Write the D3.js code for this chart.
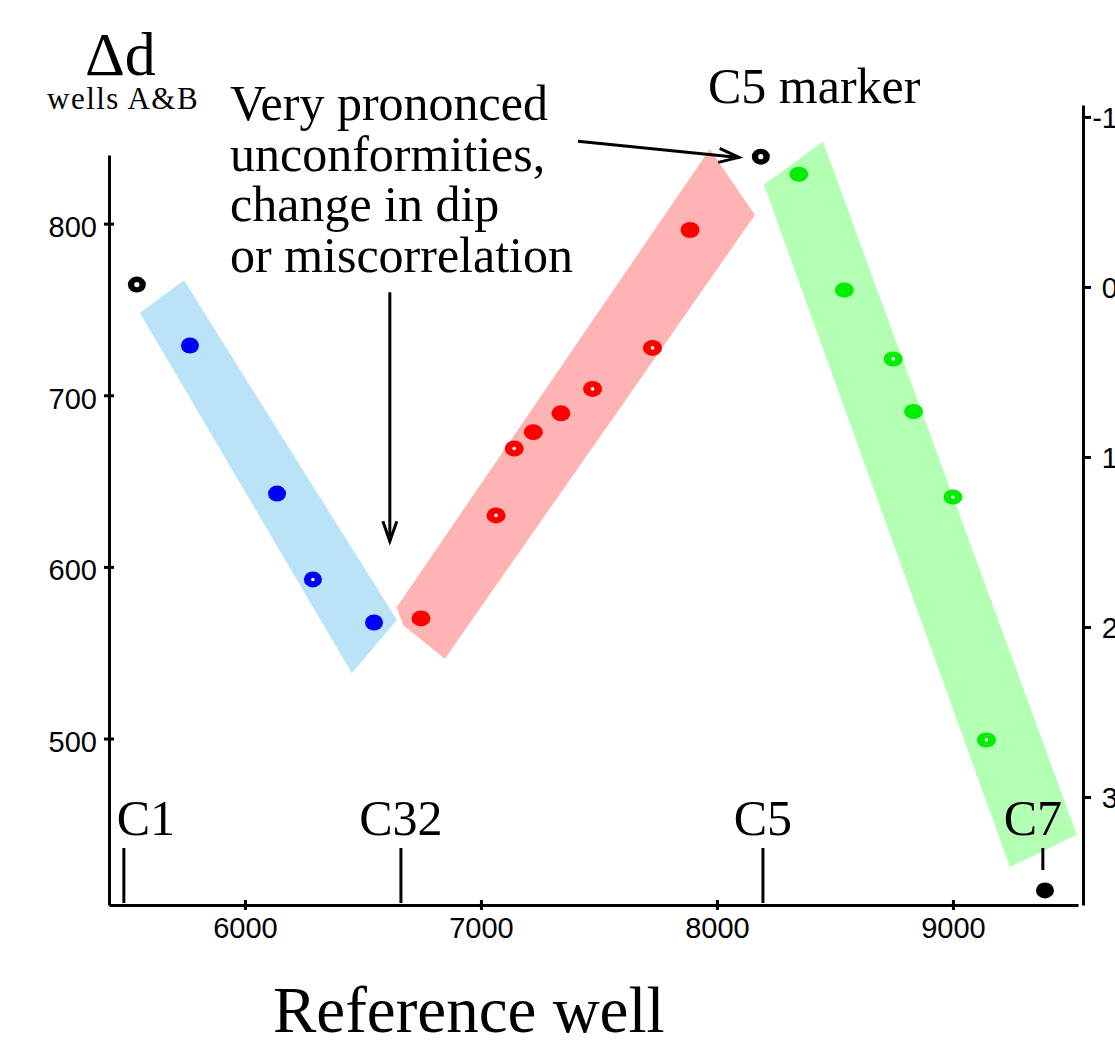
<!DOCTYPE html>
<html>
<head>
<meta charset="utf-8">
<script src="https://cdn.jsdelivr.net/npm/d3@7"></script>
<style>
  html, body { margin: 0; padding: 0; background: #fff; overflow: hidden; }
  svg { display: block; }
</style>
</head>
<body>
<svg id="chart" width="1115" height="1047"></svg>
<script>
// ---------------- data ----------------
const xTicks = [6000, 7000, 8000, 9000];
const yTicks = [500, 600, 700, 800];
const yRightTicks = [-1, 0, 1, 2, 3];

const blueX = [5767, 6136, 6288, 6547];
const blueY = [729, 642.7, 592.7, 567.6];
const blueRing = [false, false, true, false];

const redX = [6746, 7064, 7141, 7222, 7339, 7473, 7727, 7886];
const redY = [570, 630, 669, 678.5, 689.5, 703.7, 727.6, 796.3];
const redRing = [false, true, true, false, false, true, true, false];

const greenX = [8347, 8540, 8747, 8833, 9000, 9142];
const greenY = [828.8, 761.3, 721.2, 690.6, 640.7, 499.2];
const greenRing = [false, false, true, false, true, true];

const blackX = [5542, 8186, 9390];
const blackY = [764.5, 839, 411.5];
const blackRing = [true, true, false];

const markerNames = ["C1", "C32", "C5", "C7"];
const markerX = [5487, 6661, 8195, 9381];

// trend bands (data coordinates)
const blueBand = [[5555, 748], [5742, 767], [6644, 569], [6453, 538]];
const redBand = [[6643, 576.5], [7970, 843.5], [8161, 805], [6847, 546.5], [6671, 566]];
const greenBand = [[8199, 822.7], [8449, 847.8], [9525, 444], [9242, 425]];

// annotation arrows (data coordinates)
const arrowVertical = [[6614, 760], [6614, 615]];
const arrowToC5 = [[7411, 848], [8093, 838.6]];

const noteLines = ["Very prononced", "unconformities,", "change in dip", "or miscorrelation"];

// ---------------- drawing ----------------
const svg = d3.select("#chart");
svg.append("rect").attr("width", 1115).attr("height", 1047).attr("fill", "#fff");

const x = d3.scaleLinear().domain([5424, 9530]).range([109, 1078]);
const y = d3.scaleLinear().domain([403, 840]).range([905, 155]);
const yR = d3.scaleLinear().domain([-1.07, 3.635]).range([105, 905]);

const serif = "'Liberation Serif','Times New Roman',Times,serif";
const sans = "'Liberation Sans',Arial,Helvetica,sans-serif";

// bands
const bandLine = d3.line().x(d => x(d[0])).y(d => y(d[1])).curve(d3.curveLinearClosed);
svg.append("path").attr("d", bandLine(blueBand)).attr("fill", "#bbe3f7");
svg.append("path").attr("d", bandLine(redBand)).attr("fill", "#ffb3b3");
svg.append("path").attr("d", bandLine(greenBand)).attr("fill", "#b3ffb3");

// axes
const axLeft = svg.append("g").attr("transform", `translate(${x.range()[0]},0)`)
  .call(d3.axisLeft(y).tickValues(yTicks).tickSizeInner(5).tickSizeOuter(0).tickPadding(7));
const axBottom = svg.append("g").attr("transform", `translate(0,${y.range()[0]})`)
  .call(d3.axisBottom(x).tickValues(xTicks).tickSizeInner(5).tickSizeOuter(0).tickPadding(0).tickFormat(d3.format("d")));
const axRight = svg.append("g").attr("transform", "translate(1083,0)")
  .call(d3.axisRight(yR).tickValues(yRightTicks).tickSizeInner(8).tickSizeOuter(0).tickPadding(0)
    .tickFormat(d => (d < 0 ? "-" : "") + Math.abs(d)));

[axLeft, axBottom, axRight].forEach(g => {
  g.select(".domain").attr("stroke", "#000").attr("stroke-width", 3);
  g.selectAll(".tick line").attr("stroke", "#000").attr("stroke-width", 3);
  g.selectAll(".tick text").attr("fill", "#000").style("font-family", sans).style("font-size", "29px");
});
axLeft.selectAll(".tick line").attr("x1", 5).attr("x2", -5);
axLeft.selectAll(".tick text").attr("dy", "0.45em");
axBottom.selectAll(".tick line").attr("y1", -5).attr("y2", 5);
axBottom.selectAll(".tick text").attr("y", 33).attr("dy", 0);
axRight.selectAll(".tick text").attr("x", 35).attr("text-anchor", "end").attr("dy", "0.36em");

// well marker lines + labels
const markerLabelDx = [22, 0, 0, -10];
const markerLineTop = [848, 848, 848, 848];
const markerLineBottom = [903, 903, 903, 870];
markerNames.forEach((name, i) => {
  const px = x(markerX[i]);
  svg.append("line").attr("x1", px).attr("x2", px)
    .attr("y1", markerLineTop[i]).attr("y2", markerLineBottom[i])
    .attr("stroke", "#000").attr("stroke-width", 3);
  svg.append("text").attr("x", px + markerLabelDx[i]).attr("y", 835)
    .attr("text-anchor", "middle").style("font-family", serif).style("font-size", "50px")
    .attr("fill", "#000").text(name);
});

// dots
function drawDots(xs, ys, rings, color, rx, ry, hole) {
  xs.forEach((v, i) => {
    svg.append("ellipse").attr("cx", x(v)).attr("cy", y(ys[i]))
      .attr("rx", rx).attr("ry", ry).attr("fill", color);
    if (rings[i]) {
      svg.append("circle").attr("cx", x(v)).attr("cy", y(ys[i])).attr("r", hole).attr("fill", "#fff");
    }
  });
}
drawDots(blueX, blueY, blueRing, "#0000ff", 9, 8, 1.8);
drawDots(redX, redY, redRing, "#ff0000", 9.5, 8, 1.8);
drawDots(greenX, greenY, greenRing, "#00ee00", 9.5, 7.5, 1.8);
drawDots(blackX, blackY, blackRing, "#000", 9, 8, 2.6);

// arrows
function drawArrow(a) {
  const x1 = x(a[0][0]), y1 = y(a[0][1]), x2 = x(a[1][0]), y2 = y(a[1][1]);
  svg.append("line").attr("x1", x1).attr("y1", y1).attr("x2", x2).attr("y2", y2)
    .attr("stroke", "#000").attr("stroke-width", 3);
  const ang = Math.atan2(y2 - y1, x2 - x1);
  const L = 20, W = 7;
  const bx = x2 - L * Math.cos(ang), by = y2 - L * Math.sin(ang);
  const nx = -Math.sin(ang) * W, ny = Math.cos(ang) * W;
  svg.append("path")
    .attr("d", `M${bx + nx},${by + ny}L${x2},${y2}L${bx - nx},${by - ny}`)
    .attr("fill", "none").attr("stroke", "#000").attr("stroke-width", 3)
    .attr("stroke-linejoin", "miter");
}
drawArrow(arrowVertical);
drawArrow(arrowToC5);

// texts
svg.append("text").attr("x", 85).attr("y", 75).style("font-family", serif).style("font-size", "62px")
  .attr("fill", "#000").text("Δd");
svg.append("text").attr("x", 47).attr("y", 109).style("font-family", serif).style("font-size", "31px")
  .style("letter-spacing", "1.5px").attr("fill", "#000").text("wells A&B");

noteLines.forEach((t, i) => {
  svg.append("text").attr("x", 230).attr("y", 120 + i * 50.5)
    .style("font-family", serif).style("font-size", "50px").attr("fill", "#000").text(t);
});

svg.append("text").attr("x", 708).attr("y", 103).style("font-family", serif).style("font-size", "50px")
  .attr("fill", "#000").text("C5 marker");

svg.append("text").attr("x", 273).attr("y", 1032).style("font-family", serif).style("font-size", "65px")
  .attr("fill", "#000").text("Reference well");
</script>
</body>
</html>
